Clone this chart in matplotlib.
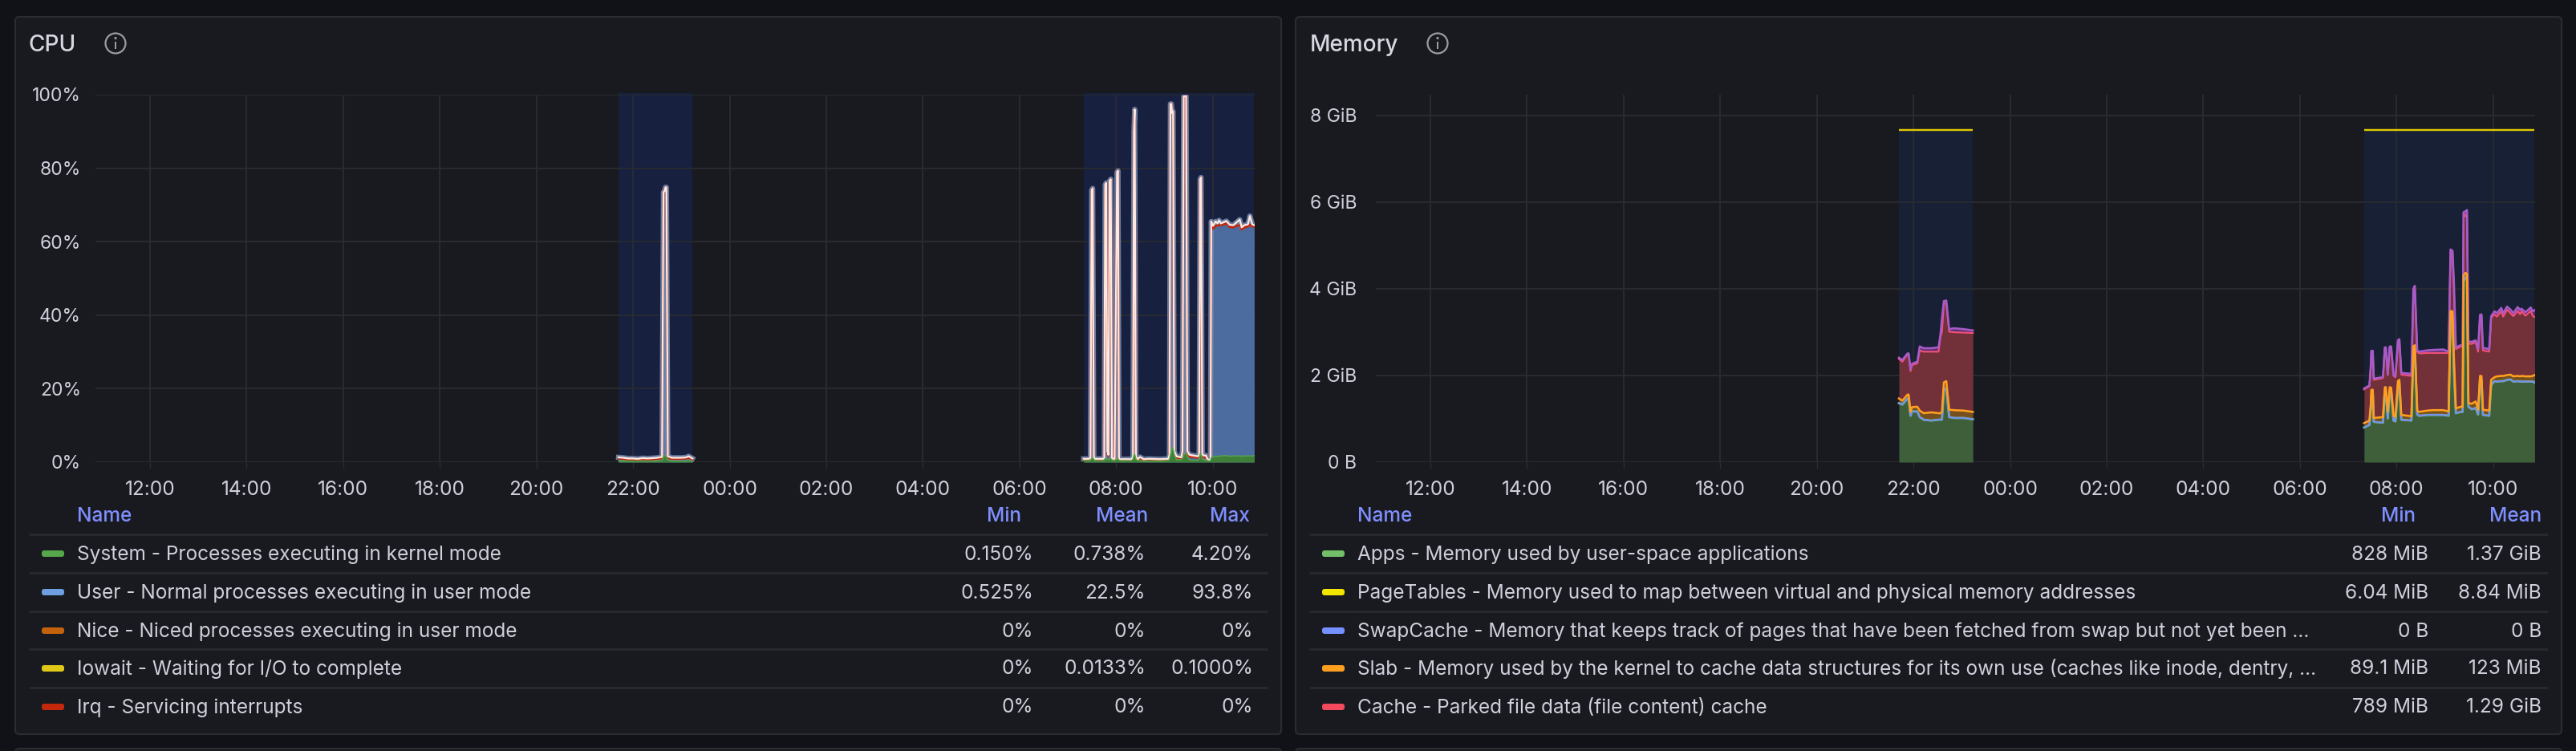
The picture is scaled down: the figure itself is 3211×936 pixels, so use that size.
import matplotlib
matplotlib.use("Agg")
import matplotlib.pyplot as plt
from matplotlib.patches import FancyBboxPatch, Circle, Rectangle

plt.rcParams['font.family'] = ['Inter', 'DejaVu Sans']

# ---------- shared axis data ----------
hour_ticks = [12, 14, 16, 18, 20, 22, 24, 26, 28, 30, 32, 34]
hour_labels = ['12:00', '14:00', '16:00', '18:00', '20:00', '22:00', '00:00', '02:00', '04:00', '06:00', '08:00', '10:00']
cpu_yticks = [0, 20, 40, 60, 80, 100]
cpu_ylabels = ['0%', '20%', '40%', '60%', '80%', '100%']
mem_yticks = [0, 2, 4, 6, 8]
mem_ylabels = ['0 B', '2 GiB', '4 GiB', '6 GiB', '8 GiB']
band_a = [21.70, 23.23]
band_b = [31.33, 34.86]

# ---------- CPU, first burst ----------
cpu_a_hours = [21.70, 21.80, 21.90, 22.00, 22.10, 22.20, 22.30, 22.40, 22.50, 22.60, 22.63, 22.65, 22.67, 22.69, 22.72, 22.80, 22.90, 23.00, 23.10, 23.15, 23.23]
cpu_a_system = [0.3, 0.3, 0.3, 0.3, 0.3, 0.3, 0.3, 0.3, 0.3, 0.5, 1.6, 1.8, 1.8, 1.5, 0.6, 0.3, 0.3, 0.3, 0.3, 0.4, 0.3]
cpu_a_user_top = [1.0, 0.9, 0.7, 0.7, 0.6, 0.8, 0.7, 0.8, 0.9, 1.0, 73.5, 73.7, 74.8, 74.8, 1.2, 0.9, 0.9, 0.9, 1.0, 1.2, 0.7]
cpu_a_total = [1.3, 1.2, 1.0, 1.0, 0.9, 1.1, 1.0, 1.1, 1.2, 1.4, 73.5, 73.7, 74.8, 74.8, 1.6, 1.2, 1.2, 1.2, 1.3, 1.6, 1.0]

# ---------- CPU, second burst ----------
cpu_b_hours = [31.33, 31.43, 31.47, 31.495, 31.515, 31.54, 31.56, 31.73, 31.755, 31.775, 31.795, 31.82, 31.84, 31.865, 31.89, 31.915, 31.97, 32.02, 32.04, 32.06, 32.085, 32.32, 32.35, 32.37, 32.385, 32.41, 32.45, 32.495, 32.57, 32.68, 32.905, 33.08, 33.105, 33.125, 33.145, 33.16, 33.18, 33.205, 33.25, 33.35, 33.375, 33.40, 33.45, 33.475, 33.517, 33.69, 33.72, 33.74, 33.76, 33.785, 33.82, 33.86, 33.895, 33.94, 33.955, 33.97, 34.005, 34.06, 34.10, 34.13, 34.17, 34.285, 34.35, 34.43, 34.49, 34.56, 34.60, 34.655, 34.73, 34.77, 34.82, 34.86]
cpu_b_system = [.4, .4, .5, 1.0, 1.2, .8, .4, .4, .5, 1.0, 1.0, .7, .7, 1.0, 1.0, .5, .4, .9, 1.0, .5, .4, .4, .8, 2.0, 2.2, .8, .4, .4, .3, .3, .3, .4, .8, 2, 3, 4.2, 3.5, 2, .7, .7, 1, 2, 2.5, 1.5, .6, .5, .8, 2.2, 2.2, .9, .6, .6, .4, .3, .5, 1.2, 1.5, 1.6, 1.6, 1.6, 1.7, 1.8, 1.6, 1.7, 1.7, 1.7, 1.6, 1.7, 1.7, 1.7, 1.7, 1.8]
cpu_b_user_top = [.6, .6, .8, 74, 74.5, 1.2, .6, .6, .8, 75.5, 76, 2.5, 1.7, 76.5, 77, .7, .6, 78.9, 79.3, .7, .5, .5, 1.2, 90, 96, 1.2, .5, 1.1, .5, .6, .5, .6, 1.7, 97.5, 97.5, 95, 95.5, 2.6, 1.2, .9, 2.5, 99.5, 99.6, 2.5, 1.5, 1.2, 1.6, 77, 77.5, 1.6, 1.3, 1.3, .6, .4, .7, 64.9, 63.5, 64.3, 64.4, 64.5, 64.4, 65, 64, 63.9, 64.3, 64.5, 63.3, 63.9, 64.1, 64.6, 64.2, 64]
cpu_b_total = [.9, .9, 1.1, 74, 74.5, 1.5, .9, .9, 1.1, 75.5, 76, 3, 2, 76.5, 77, 1, .9, 78.9, 79.3, 1, .8, .8, 1.5, 90, 96, 1.5, .8, 1.4, .8, .9, .8, .9, 2, 97.5, 97.5, 95, 95.5, 3, 1.6, 1.3, 3, 99.5, 99.6, 3, 2, 1.6, 2, 77, 77.5, 2, 1.8, 1.8, .8, .6, 1, 65.5, 64.3, 65.5, 65, 65.8, 65, 65.6, 64.6, 64.5, 65.2, 66, 63.9, 64.5, 64.7, 67, 64.7, 64.5]

# ---------- Memory, first burst (GiB, stacked tops) ----------
mem_a_hours = [21.70, 21.77, 21.88, 21.90, 21.94, 21.97, 22.08, 22.13, 22.21, 22.37, 22.52, 22.56, 22.59, 22.63, 22.68, 22.74, 22.84, 23.04, 23.23]
mem_a_apps = [1.36, 1.33, 1.47, 1.47, 1.07, 1.17, 1.17, 1.04, .98, .96, .98, .98, .98, 1.69, 1.69, 1.04, 1.02, 1.02, .99]
mem_a_slab = [1.47, 1.42, 1.56, 1.56, 1.16, 1.27, 1.28, 1.19, 1.13, 1.15, 1.13, 1.13, 1.16, 1.84, 1.87, 1.21, 1.20, 1.19, 1.16]
mem_a_cache = [2.38, 2.32, 2.49, 2.49, 2.10, 2.24, 2.28, 2.58, 2.55, 2.55, 2.55, 2.89, 3.01, 3.66, 3.66, 3.01, 3.00, 2.99, 2.98]
mem_a_buffers = [2.41, 2.36, 2.51, 2.51, 2.15, 2.27, 2.32, 2.67, 2.63, 2.63, 2.65, 2.95, 3.32, 3.72, 3.73, 3.07, 3.09, 3.07, 3.04]

# ---------- Memory, second burst ----------
mem_b_hours = [31.33, 31.44, 31.47, 31.48, 31.51, 31.53, 31.72, 31.76, 31.78, 31.82, 31.86, 31.89, 31.94, 31.98, 32.03, 32.06, 32.10, 32.31, 32.35, 32.38, 32.43, 32.47, 32.64, 32.75, 32.97, 33.08, 33.12, 33.16, 33.19, 33.23, 33.33, 33.37, 33.39, 33.43, 33.46, 33.49, 33.56, 33.64, 33.69, 33.73, 33.76, 33.79, 33.92, 33.96, 34.03, 34.08, 34.17, 34.21, 34.29, 34.36, 34.42, 34.51, 34.56, 34.59, 34.67, 34.78, 34.82, 34.86]
mem_b_apps = [.80, .86, 1.25, 1.56, 1.56, .93, .91, 1.62, 1.62, 1.01, 1.62, 1.62, .96, .94, 1.78, 1.81, .98, .96, 2.58, 2.61, 1.10, 1.07, 1.09, 1.09, 1.09, 1.07, 3.38, 3.38, 2.1, 1.13, 1.16, 1.16, 4.19, 4.25, 4.31, 1.28, 1.22, 1.25, 1.10, 1.90, 1.90, 1.09, 1.07, 1.78, 1.87, 1.86, 1.87, 1.87, 1.90, 1.91, 1.86, 1.87, 1.86, 1.86, 1.86, 1.86, 1.86, 1.84]
mem_b_slab = [.90, .96, 1.35, 1.67, 1.67, 1.02, 1.04, 1.73, 1.73, 1.16, 1.73, 1.72, 1.07, 1.05, 1.87, 1.90, 1.09, 1.06, 2.67, 2.70, 1.19, 1.16, 1.19, 1.20, 1.20, 1.17, 3.49, 3.48, 2.4, 1.24, 1.28, 1.28, 4.31, 4.37, 4.34, 1.36, 1.35, 1.40, 1.21, 1.99, 1.99, 1.21, 1.19, 1.90, 1.96, 1.98, 1.99, 1.99, 2.01, 2.02, 1.98, 1.99, 1.98, 1.99, 1.98, 1.98, 1.99, 2.01]
mem_b_cache = [1.68, 1.75, 2.2, 2.55, 2.55, 1.90, 1.94, 2.64, 2.64, 2.01, 2.65, 2.65, 1.99, 1.96, 2.78, 2.81, 2.02, 1.99, 3.94, 4.03, 2.55, 2.51, 2.52, 2.52, 2.52, 2.52, 4.88, 4.86, 3.9, 2.61, 2.67, 2.67, 5.76, 5.67, 5.73, 2.73, 2.73, 2.77, 2.55, 3.35, 3.38, 2.58, 2.55, 3.33, 3.41, 3.36, 3.48, 3.36, 3.52, 3.44, 3.37, 3.49, 3.41, 3.48, 3.38, 3.49, 3.38, 3.35]
mem_b_buffers = [1.70, 1.77, 2.25, 2.57, 2.57, 1.93, 1.96, 2.65, 2.65, 2.02, 2.67, 2.67, 2.01, 1.98, 2.81, 2.84, 2.06, 2.04, 4.0, 4.07, 2.58, 2.55, 2.58, 2.59, 2.60, 2.55, 4.91, 4.88, 4.15, 2.65, 2.70, 2.70, 5.77, 5.79, 5.82, 2.78, 2.78, 2.81, 2.61, 3.40, 3.41, 2.64, 2.61, 3.37, 3.48, 3.44, 3.56, 3.44, 3.59, 3.52, 3.44, 3.58, 3.51, 3.54, 3.46, 3.57, 3.48, 3.51]
mem_total = [7.67, 7.67]

# ---------- legends ----------
cpu_names = ['System - Processes executing in kernel mode', 'User - Normal processes executing in user mode', 'Nice - Niced processes executing in user mode', 'Iowait - Waiting for I/O to complete', 'Irq - Servicing interrupts']
cpu_min = ['0.150%', '0.525%', '0%', '0%', '0%']
cpu_mean = ['0.738%', '22.5%', '0%', '0.0133%', '0%']
cpu_max = ['4.20%', '93.8%', '0%', '0.1000%', '0%']
cpu_swatches = ['#56a64b', '#6e9fe0', '#c4620c', '#e0c818', '#c4280c']
mem_names = ['Apps - Memory used by user-space applications', 'PageTables - Memory used to map between virtual and physical memory addresses', 'SwapCache - Memory that keeps track of pages that have been fetched from swap but not yet been ...', 'Slab - Memory used by the kernel to cache data structures for its own use (caches like inode, dentry, ...', 'Cache - Parked file data (file content) cache']
mem_min = ['828 MiB', '6.04 MiB', '0 B', '89.1 MiB', '789 MiB']
mem_mean = ['1.37 GiB', '8.84 MiB', '0 B', '123 MiB', '1.29 GiB']
mem_swatches = ['#73bf69', '#f2e500', '#7590ff', '#ff9f1f', '#f2495c']

# ---------- style ----------
W, H = 3212, 936
PAGE, PANEL, BORDER = '#111217', '#191a1f', '#2a2c31'
TXT, HEAD = '#cfd0dc', '#7f8fff'
GRID = '#2a2c31'
PX = 0.72
FS = 24.4 * PX

fig = plt.figure(figsize=(W / 100, H / 100), dpi=100, facecolor=PAGE)
ov = fig.add_axes([0, 0, 1, 1], zorder=0)
ov.set_xlim(0, W)
ov.set_ylim(H, 0)
ov.axis('off')


def panel(x0, x1, y0, y1):
    ov.add_patch(FancyBboxPatch((x0, y0), x1 - x0, y1 - y0, boxstyle='round,pad=0,rounding_size=5',
                                fc=PANEL, ec=BORDER, lw=1.5))


def plot_axes(x0, x1, y0, y1, ylim, yticks, ylabels, ypad):
    ax = fig.add_axes([x0 / W, 1 - y1 / H, (x1 - x0) / W, (y1 - y0) / H], zorder=2)
    ax.patch.set_alpha(0)
    ax.set_xlim(10.87, 34.87)
    ax.set_ylim(*ylim)
    for s in ax.spines.values():
        s.set_visible(False)
    ax.set_xticks(hour_ticks, hour_labels)
    ax.set_yticks(yticks, ylabels)
    ax.set_axisbelow('line')
    ax.grid(True, color=GRID, lw=1.3)
    ax.tick_params(axis='x', length=8 * PX, width=1.0, color=GRID, labelcolor=TXT, labelsize=FS, pad=11)
    ax.tick_params(axis='y', length=0, labelcolor=TXT, labelsize=23 * PX, pad=ypad)
    return ax


def title_block(text, x, icon_x):
    ov.text(x, 56, text, color='#d6d7e0', fontsize=28 * PX, fontweight='medium', va='center', ha='left')
    ov.add_patch(Circle((icon_x, 54), 12.5, fc='none', ec='#9a9ba4', lw=1.6))
    ov.add_patch(Rectangle((icon_x - 1.2, 52), 2.4, 9, fc='#9a9ba4', ec='none'))
    ov.add_patch(Circle((icon_x, 47.5), 1.6, fc='#9a9ba4', ec='none'))


def legend(names, swatches, columns, line_x, sw_x, text_x):
    ov.text(text_x, 643, 'Name', color=HEAD, fontsize=FS, fontweight='medium', va='center', ha='left')
    for head, hx, values, vx in columns:
        ov.text(hx, 643, head, color=HEAD, fontsize=FS, fontweight='medium', va='center', ha='right')
        for yc, val in zip(row_y, values):
            ov.text(vx, yc + 1, val, color=TXT, fontsize=FS, va='center', ha='right')
    for ly in row_lines:
        ov.plot(line_x, [ly, ly], color='#26282d', lw=3 * PX, solid_capstyle='butt')
    for yc, name, sw in zip(row_y, names, swatches):
        ov.add_patch(FancyBboxPatch((sw_x, yc - 4), 28, 8, boxstyle='round,pad=0,rounding_size=3', fc=sw, ec='none'))
        ov.text(text_x, yc + 1, name, color=TXT, fontsize=FS, va='center', ha='left')


row_y = [690, 738, 786, 833, 881]
row_lines = [666, 714, 762, 809, 857]

# panels
panel(19, 1597, 21, 915)
panel(1615, 3193, 21, 915)
panel(19, 1597, 933, 960)
panel(1615, 3193, 933, 960)
ov.set_xlim(0, W)
ov.set_ylim(H, 0)

title_block('CPU', 36, 144)
title_block('Memory', 1633, 1792)

legend(cpu_names, cpu_swatches,
       [('Min', 1273, cpu_min, 1288), ('Mean', 1431, cpu_mean, 1428), ('Max', 1558, cpu_max, 1562)],
       [36, 1580], 52, 96)
legend(mem_names, mem_swatches,
       [('Min', 3011, mem_min, 3027), ('Mean', 3168, mem_mean, 3168)],
       [1632, 3176], 1648, 1692)

# ---------- CPU chart ----------
ax1 = plot_axes(119, 1564, 118, 576, (0, 100), cpu_yticks, cpu_ylabels, 13)
for band, hrs, sysv, user, total in [(band_a, cpu_a_hours, cpu_a_system, cpu_a_user_top, cpu_a_total),
                                     (band_b, cpu_b_hours, cpu_b_system, cpu_b_user_top, cpu_b_total)]:
    ax1.fill_between(band, 0, [100.4, 100.4], color='#17213f', lw=0, zorder=0.5, clip_on=False)
    ax1.fill_between(hrs, 0, user, color='#4c6b9e', lw=0, zorder=2)
    ax1.plot(hrs, total, color='#7486aa', lw=6.5 * PX, alpha=0.9, zorder=3, solid_joinstyle='round')
    ax1.plot(hrs, user, color='#c4280c', lw=2.6 * PX, zorder=3.5)
    ax1.plot(hrs, total, color='#fde8e2', lw=2.3 * PX, zorder=4, solid_joinstyle='round')
    ax1.fill_between(hrs, 0, sysv, color='#3f7f38', lw=0, zorder=5)
    ax1.plot(hrs, sysv, color='#56a64b', lw=1.4 * PX, zorder=5)

# ---------- Memory chart ----------
ax2 = plot_axes(1715, 3160, 118, 576, (0, 458 / 54), mem_yticks, mem_ylabels, 17)
for band, hrs, apps, slab, cache, buffers in [(band_a, mem_a_hours, mem_a_apps, mem_a_slab, mem_a_cache, mem_a_buffers),
                                              (band_b, mem_b_hours, mem_b_apps, mem_b_slab, mem_b_cache, mem_b_buffers)]:
    ax2.fill_between(band, 0, mem_total, color='#182035', lw=0, zorder=0.5)
    ax2.plot(band, mem_total, color='#e0c800', lw=2.4 * PX, zorder=6, solid_capstyle='butt')
    ax2.fill_between(hrs, 0, apps, color='#3e5f39', lw=0, zorder=2)
    ax2.fill_between(hrs, apps, slab, color='#75501e', lw=0, zorder=2)
    ax2.fill_between(hrs, slab, cache, color='#723038', lw=0, zorder=2)
    ax2.fill_between(hrs, cache, buffers, color='#5a2f6e', lw=0, zorder=2)
    ax2.plot(hrs, apps, color='#73bf69', lw=2.8 * PX, zorder=3)
    ax2.plot(hrs, apps, color='#7590ee', lw=2.2 * PX, zorder=3.2)
    ax2.plot(hrs, cache, color='#f0507a', lw=2.2 * PX, zorder=3.4)
    ax2.plot(hrs, buffers, color='#a85bc8', lw=2.6 * PX, zorder=3.6)
    ax2.plot(hrs, slab, color='#ff9f1f', lw=2.6 * PX, zorder=4)

fig.savefig('out.png', dpi=100, facecolor=PAGE)
